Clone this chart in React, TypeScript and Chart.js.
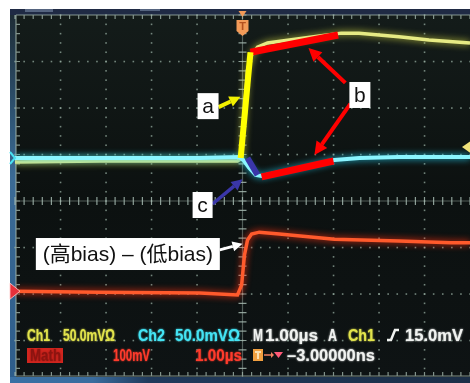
import React, { useEffect, useRef } from "react";
import { Chart, registerables } from "chart.js";

Chart.register(...registerables);

// Horizontal axis: time in µs (1.00 µs/div). Vertical axis: screen divisions.
const ch1Time = [-5, -3.14, -0.94, -0.11, -0.02, 0.044, 0.11, 0.2, 0.33, 0.55, 1.03, 1.69, 2.17, 2.56, 3.44, 4.1, 5];
const ch1Level = [0.84, 0.86, 0.86, 0.86, 0.92, 1.96, 2.82, 3.14, 3.31, 3.4, 3.46, 3.55, 3.61, 3.61, 3.53, 3.46, 3.4];

const ch2Time = [-5, -3.14, -0.94, -0.07, 0.02, 0.15, 0.29, 0.42, 0.81, 1.25, 1.69, 2.02, 2.57, 3.44, 5];
const ch2Level = [0.925, 0.925, 0.925, 0.946, 0.88, 0.71, 0.56, 0.54, 0.62, 0.71, 0.8, 0.88, 0.925, 0.946, 0.946];

const mathTime = [-5, -3.14, -0.94, -0.11, -0.02, 0.044, 0.11, 0.2, 0.37, 0.81, 2.02, 3.44, 4.58, 5];
const mathLevel = [-1.94, -1.96, -1.98, -2.02, -1.81, -1.16, -0.84, -0.71, -0.67, -0.71, -0.82, -0.86, -0.9, -0.9];

// Highlight strokes laid over the traces
const riseMarkTime = [-0.04, 0.175];
const riseMarkLevel = [0.925, 3.2];
const upperMarkTime = [0.175, 2.1];
const upperMarkLevel = [3.2, 3.57];
const lowerMarkTime = [0.42, 2.0];
const lowerMarkLevel = [0.52, 0.86];
const dipMarkTime = [0.11, 0.33];
const dipMarkLevel = [0.925, 0.56];

// Callout labels (box centres) and their arrows
const calloutText = ["a", "b", "c", "(高bias) – (低bias)"];
const calloutTime = [-0.757, 2.58, -0.877, -2.52];
const calloutLevel = [2.04, 2.28, -0.086, -1.14];

const arrowFromTime = [-0.526, 2.26, 2.37, -0.66, -0.5];
const arrowFromLevel = [2.02, 2.54, 2.09, -0.065, -1.05];
const arrowToTime = [-0.044, 1.45, 1.58, 0.0, 0.0];
const arrowToLevel = [2.24, 3.29, 0.99, 0.47, -0.92];

// Channel reference markers
const ch2RefLevel = 0.925;
const mathRefLevel = -1.94;
const trigLevel = 1.16;
const trigTime = 0;

// Readout texts along the bottom of the screen
const readoutRow1 = ["Ch1", "50.0mVΩ", "Ch2", "50.0mVΩ", "M", "1.00µs", "A", "Ch1", "15.0mV"];
const readoutRow2 = ["Math", "100mV", "1.00µs", "–3.00000ns"];

// ---- styling ----
const YELLOW_TXT = "#e2e44c";
const CYAN_TXT = "#44e4f4";
const WHITE_TXT = "#f0f2f0";
const RED_TXT = "#ff3b2c";

const row1Layout = [
  { x: 27, w: 23, c: YELLOW_TXT },
  { x: 63, w: 52, c: YELLOW_TXT },
  { x: 138, w: 27, c: CYAN_TXT },
  { x: 175, w: 65, c: CYAN_TXT },
  { x: 253, w: 10, c: WHITE_TXT },
  { x: 265, w: 53, c: WHITE_TXT },
  { x: 328, w: 9, c: WHITE_TXT },
  { x: 348, w: 27, c: YELLOW_TXT },
  { x: 405, w: 58, c: WHITE_TXT },
];
const row2Layout = [
  { x: 30, w: 31, c: "#8c1410" },
  { x: 113, w: 37, c: RED_TXT },
  { x: 195, w: 47, c: RED_TXT },
  { x: 287, w: 88, c: WHITE_TXT },
];

const calloutBox = [
  { w: 21, h: 26 },
  { w: 21, h: 26 },
  { w: 20, h: 26 },
  { w: 184, h: 32 },
];
const arrowStyle = [
  { c: "#f2f000", lw: 4, head: 11 },
  { c: "#ff0000", lw: 4, head: 13 },
  { c: "#ff0000", lw: 4, head: 13 },
  { c: "#3a36a8", lw: 3.5, head: 11 },
  { c: "#ffffff", lw: 3, head: 10 },
];

const pts = (xs: number[], ys: number[]) => xs.map((x, i) => ({ x, y: ys[i] }));

function drawFitted(
  ctx: CanvasRenderingContext2D,
  text: string,
  x: number,
  baseline: number,
  width: number,
  color: string,
  size = 16
) {
  ctx.save();
  ctx.font = `bold ${size}px "Liberation Sans", Arial, sans-serif`;
  const w = ctx.measureText(text).width;
  ctx.translate(x, baseline);
  ctx.scale(width / w, 1);
  ctx.fillStyle = color;
  ctx.shadowColor = color;
  ctx.shadowBlur = 2;
  ctx.textBaseline = "alphabetic";
  ctx.fillText(text, 0, 0);
  ctx.restore();
}

const scopePlugin = {
  id: "scopeScreen",
  beforeDraw(chart: any) {
    const { ctx, width, height } = chart;
    ctx.save();
    ctx.fillStyle = "#ffffff";
    ctx.fillRect(0, 0, width, height);
    // screen glass
    const g = ctx.createLinearGradient(0, 9, 0, 383);
    g.addColorStop(0, "#141c1a");
    g.addColorStop(0.5, "#0c1110");
    g.addColorStop(1, "#0e1314");
    ctx.fillStyle = g;
    ctx.fillRect(10, 9, width - 10, height - 9);
    // top status band
    ctx.fillStyle = "#1f2a44";
    ctx.fillRect(10, 9, width - 10, 6);
    ctx.fillStyle = "rgba(150,170,200,0.45)";
    ctx.fillRect(25, 9, 28, 3);
    ctx.fillRect(140, 9, 20, 2);
    // left bezel strip
    const lg = ctx.createLinearGradient(0, 9, 0, 383);
    lg.addColorStop(0, "#1d2a32");
    lg.addColorStop(0.3, "#2f5677");
    lg.addColorStop(0.45, "#3b6b96");
    lg.addColorStop(1, "#2d5c8a");
    ctx.fillStyle = lg;
    ctx.fillRect(10, 15, 6, height - 15);
    ctx.restore();
  },
  beforeDatasetsDraw(chart: any) {
    const { ctx, chartArea, width } = chart;
    const xs = chart.scales.x;
    const ys = chart.scales.y;
    const px = (v: number) => xs.getPixelForValue(v);
    const py = (v: number) => ys.getPixelForValue(v);
    ctx.save();
    // dotted graticule
    ctx.fillStyle = "rgba(150,172,160,0.75)";
    for (let i = -4; i <= 4; i++) {
      if (i === 0) continue;
      const x = px(i);
      for (let k = -20; k <= 20; k++) {
        ctx.fillRect(x - 0.75, py(k * 0.2) - 0.75, 1.6, 1.6);
      }
    }
    for (let j = -3; j <= 3; j++) {
      if (j === 0) continue;
      const y = py(j);
      for (let k = -25; k <= 25; k++) {
        ctx.fillRect(px(k * 0.2) - 0.75, y - 0.75, 1.6, 1.6);
      }
    }
    // centre axes with minor ticks
    ctx.strokeStyle = "rgba(165,185,175,0.85)";
    ctx.lineWidth = 1.2;
    const cx = px(0);
    const cy = py(0);
    ctx.beginPath();
    for (let k = -20; k <= 20; k++) {
      const y = py(k * 0.2);
      ctx.moveTo(cx - 4, y);
      ctx.lineTo(cx + 4, y);
    }
    for (let k = -25; k <= 25; k++) {
      const x = px(k * 0.2);
      ctx.moveTo(x, cy - 4);
      ctx.lineTo(x, cy + 4);
    }
    ctx.stroke();
    ctx.strokeStyle = "rgba(165,185,175,0.45)";
    ctx.beginPath();
    ctx.moveTo(cx, chartArea.top);
    ctx.lineTo(cx, chartArea.bottom);
    ctx.moveTo(chartArea.left, cy);
    ctx.lineTo(chartArea.right, cy);
    ctx.stroke();
    // frame with inward ticks
    ctx.strokeStyle = "rgba(160,180,170,0.8)";
    ctx.beginPath();
    ctx.moveTo(chartArea.left + 1, chartArea.top);
    ctx.lineTo(chartArea.right, chartArea.top);
    ctx.moveTo(chartArea.left + 1, chartArea.top);
    ctx.lineTo(chartArea.left + 1, 376);
    for (let k = -25; k <= 25; k++) {
      const x = px(k * 0.2);
      ctx.moveTo(x, chartArea.top);
      ctx.lineTo(x, chartArea.top + 4);
      ctx.moveTo(x, 376);
      ctx.lineTo(x, 372);
    }
    for (let k = -20; k <= 20; k++) {
      const y = py(k * 0.2);
      if (y > 376) continue;
      ctx.moveTo(chartArea.left + 1, y);
      ctx.lineTo(chartArea.left + 5, y);
    }
    ctx.moveTo(chartArea.left + 1, 376);
    ctx.lineTo(chartArea.right, 376);
    ctx.stroke();
    // bottom bezel
    const bg = ctx.createLinearGradient(10, 0, width, 0);
    bg.addColorStop(0, "#3a70a4");
    bg.addColorStop(0.18, "#3a6c9e");
    bg.addColorStop(0.3, "#203a5c");
    bg.addColorStop(1, "#1c2f48");
    ctx.fillStyle = bg;
    ctx.fillRect(10, 377, width - 10, 30);
    ctx.restore();
  },
  beforeDatasetDraw(chart: any, args: any) {
    const ds = chart.data.datasets[args.index];
    if (ds.glow) {
      chart.ctx.save();
      chart.ctx.shadowColor = ds.glow;
      chart.ctx.shadowBlur = 7;
    }
  },
  afterDatasetDraw(chart: any, args: any) {
    const ds = chart.data.datasets[args.index];
    if (ds.glow) chart.ctx.restore();
  },
  afterDatasetsDraw(chart: any) {
    const { ctx, chartArea } = chart;
    const xs = chart.scales.x;
    const ys = chart.scales.y;
    const px = (v: number) => xs.getPixelForValue(v);
    const py = (v: number) => ys.getPixelForValue(v);
    ctx.save();

    // Ch2 ground marker (left edge)
    const y2 = py(ch2RefLevel);
    ctx.strokeStyle = "#49e2f2";
    ctx.lineWidth = 2;
    ctx.beginPath();
    ctx.moveTo(10, y2 - 6);
    ctx.lineTo(15, y2);
    ctx.lineTo(10, y2 + 6);
    ctx.stroke();

    // Math reference marker
    const ym = py(mathRefLevel);
    ctx.fillStyle = "#e8303a";
    ctx.strokeStyle = "rgba(255,200,200,0.8)";
    ctx.lineWidth = 1;
    ctx.beginPath();
    ctx.moveTo(10, ym - 8);
    ctx.lineTo(20, ym);
    ctx.lineTo(10, ym + 8);
    ctx.closePath();
    ctx.fill();
    ctx.stroke();

    // trigger level marker (right edge)
    const yt = py(trigLevel);
    ctx.fillStyle = "#f0e27a";
    ctx.beginPath();
    ctx.moveTo(chartArea.right - 8, yt);
    ctx.lineTo(chartArea.right + 2, yt - 7);
    ctx.lineTo(chartArea.right + 2, yt + 7);
    ctx.closePath();
    ctx.fill();

    // trigger position marker (top)
    const xt = px(trigTime);
    ctx.fillStyle = "#f29a58";
    ctx.beginPath();
    ctx.moveTo(xt - 4, 11);
    ctx.lineTo(xt + 4, 11);
    ctx.lineTo(xt, 17);
    ctx.closePath();
    ctx.fill();
    ctx.beginPath();
    ctx.moveTo(xt - 6, 20);
    ctx.lineTo(xt + 6, 20);
    ctx.lineTo(xt + 6, 31);
    ctx.lineTo(xt, 36);
    ctx.lineTo(xt - 6, 31);
    ctx.closePath();
    ctx.fill();
    ctx.fillStyle = "#b4501e";
    ctx.font = 'bold 11px "Liberation Sans", Arial, sans-serif';
    ctx.textAlign = "center";
    ctx.textBaseline = "middle";
    ctx.fillText("T", xt, 27);

    // arrows
    for (let i = 0; i < arrowFromTime.length; i++) {
      const s = arrowStyle[i];
      const x0 = px(arrowFromTime[i]);
      const y0 = py(arrowFromLevel[i]);
      const x1 = px(arrowToTime[i]);
      const y1 = py(arrowToLevel[i]);
      const a = Math.atan2(y1 - y0, x1 - x0);
      const bx = x1 - Math.cos(a) * s.head;
      const by = y1 - Math.sin(a) * s.head;
      ctx.strokeStyle = s.c;
      ctx.fillStyle = s.c;
      ctx.lineWidth = s.lw;
      ctx.lineCap = "butt";
      ctx.beginPath();
      ctx.moveTo(x0, y0);
      ctx.lineTo(bx, by);
      ctx.stroke();
      const hw = s.head * 0.5;
      ctx.beginPath();
      ctx.moveTo(x1, y1);
      ctx.lineTo(bx + Math.sin(a) * hw, by - Math.cos(a) * hw);
      ctx.lineTo(bx - Math.sin(a) * hw, by + Math.cos(a) * hw);
      ctx.closePath();
      ctx.fill();
    }

    // callout boxes
    for (let i = 0; i < calloutText.length; i++) {
      const b = calloutBox[i];
      const cx = px(calloutTime[i]);
      const cy = py(calloutLevel[i]);
      ctx.fillStyle = "#ffffff";
      ctx.fillRect(cx - b.w / 2, cy - b.h / 2, b.w, b.h);
      ctx.fillStyle = "#111111";
      ctx.font = '21px "Liberation Sans", "Noto Sans CJK SC", Arial, sans-serif';
      ctx.textAlign = "center";
      ctx.textBaseline = "middle";
      ctx.fillText(calloutText[i], cx, cy + 1);
    }

    // readouts
    ctx.textAlign = "left";
    readoutRow1.forEach((t, i) => {
      const l = row1Layout[i];
      drawFitted(ctx, t, l.x, 341, l.w, l.c);
    });
    // rising-edge slope symbol
    ctx.strokeStyle = WHITE_TXT;
    ctx.lineWidth = 2.5;
    ctx.beginPath();
    ctx.moveTo(387, 340);
    ctx.lineTo(391, 340);
    ctx.lineTo(395, 330);
    ctx.lineTo(399, 330);
    ctx.stroke();

    // Math badge
    ctx.fillStyle = "#d2261f";
    ctx.fillRect(27, 348, 36, 15);
    readoutRow2.forEach((t, i) => {
      const l = row2Layout[i];
      drawFitted(ctx, t, l.x, 361, l.w, l.c);
    });
    // trigger position icon
    ctx.fillStyle = "#f2a040";
    ctx.fillRect(253, 349, 10, 12);
    ctx.fillStyle = "#fbe0b0";
    ctx.fillRect(255, 351, 6, 2);
    ctx.fillRect(257, 351, 2, 8);
    ctx.strokeStyle = "#f08060";
    ctx.lineWidth = 1.5;
    ctx.beginPath();
    ctx.moveTo(264, 355);
    ctx.lineTo(271, 355);
    ctx.stroke();
    ctx.fillStyle = "#f08060";
    ctx.beginPath();
    ctx.moveTo(271, 352);
    ctx.lineTo(274, 355);
    ctx.lineTo(271, 358);
    ctx.fill();
    ctx.fillStyle = "#ff5a78";
    ctx.beginPath();
    ctx.moveTo(274, 352);
    ctx.lineTo(283, 352);
    ctx.lineTo(278.5, 358);
    ctx.closePath();
    ctx.fill();

    ctx.restore();
  },
};

export default function App() {
  const ref = useRef<HTMLCanvasElement>(null);
  useEffect(() => {
    const canvas = ref.current;
    if (!canvas) return;
    const highlight = (data: any, color: string, w: number) => ({
      data,
      showLine: true,
      borderColor: color,
      borderWidth: w,
      borderCapStyle: "butt",
      pointRadius: 0,
      order: 0,
    });
    const chart = new Chart(canvas, {
      type: "scatter",
      data: {
        datasets: [
          highlight(pts(riseMarkTime, riseMarkLevel), "#ffff00", 6),
          highlight(pts(upperMarkTime, upperMarkLevel), "#ff0000", 7),
          highlight(pts(lowerMarkTime, lowerMarkLevel), "#ff0000", 7),
          highlight(pts(dipMarkTime, dipMarkLevel), "#3a36a8", 6),
          {
            label: "Ch2",
            data: pts(ch2Time, ch2Level),
            showLine: true,
            borderColor: "#8af5ff",
            borderWidth: 4,
            pointRadius: 0,
            glow: "#22c8e8",
            order: 1,
          } as any,
          {
            label: "Ch1",
            data: pts(ch1Time, ch1Level),
            showLine: true,
            borderColor: "#e6ea84",
            borderWidth: 3.5,
            pointRadius: 0,
            glow: "#c8cc40",
            order: 2,
          } as any,
          {
            label: "Math",
            data: pts(mathTime, mathLevel),
            showLine: true,
            borderColor: "#ff5a2c",
            borderWidth: 3.5,
            pointRadius: 0,
            glow: "#ff3010",
            order: 3,
          } as any,
        ],
      },
      options: {
        animation: false,
        responsive: false,
        devicePixelRatio: 1,
        events: [],
        layout: { padding: { left: 15, top: 15, right: 0, bottom: 13 } },
        scales: {
          x: { type: "linear", min: -5, max: 5, display: false },
          y: { type: "linear", min: -4, max: 4, display: false },
        },
        plugins: { legend: { display: false }, tooltip: { enabled: false } },
      },
      plugins: [scopePlugin],
    } as any);
    return () => chart.destroy();
  }, []);
  return (
    <div
      style={{
        position: "fixed",
        left: 0,
        top: 0,
        width: 470,
        height: 383,
        overflow: "hidden",
        background: "#ffffff",
      }}
    >
      <canvas ref={ref} width={470} height={400} style={{ display: "block", width: 470, height: 400 }} />
    </div>
  );
}
